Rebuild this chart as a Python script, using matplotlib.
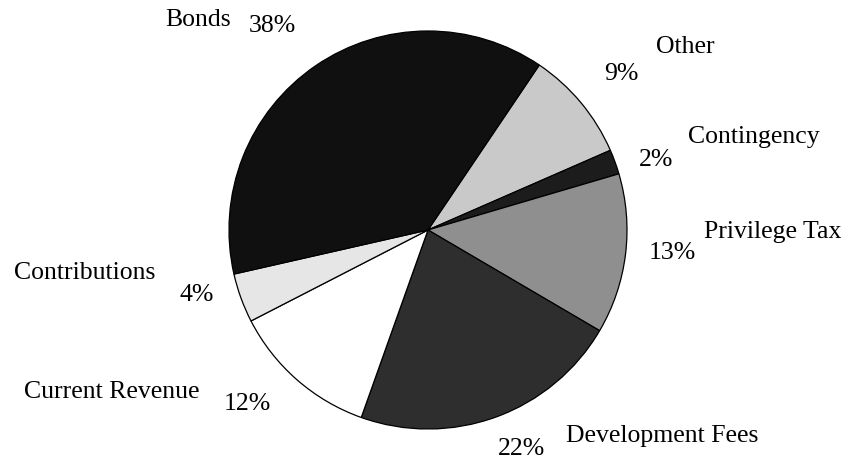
import matplotlib
matplotlib.use("Agg")
import matplotlib.pyplot as plt

# slices, clockwise starting from the Bonds/Other boundary
categories = ["Other", "Contingency", "Privilege Tax", "Development Fees",
              "Current Revenue", "Contributions", "Bonds"]
shares = [9, 2, 13, 22, 12, 4, 38]
pct_labels = ["9%", "2%", "13%", "22%", "12%", "4%", "38%"]

# greys approximating the scanned fill textures
colors = ["#c9c9c9", "#1c1c1c", "#8f8f8f", "#2e2e2e", "#ffffff", "#e6e6e6", "#101010"]

# label placement in image pixels (x, y from top): name, then percent
name_pos = {
    "Other": (685, 47), "Contingency": (754, 137), "Privilege Tax": (773, 232),
    "Development Fees": (662, 436), "Current Revenue": (112, 392),
    "Contributions": (85, 273), "Bonds": (198, 20),
}
pct_pos = {
    "Other": (621, 74), "Contingency": (656, 160), "Privilege Tax": (672, 253),
    "Development Fees": (522, 449), "Current Revenue": (247, 404),
    "Contributions": (197, 295), "Bonds": (272, 26),
}

W, H = 848, 464
plt.rcParams["font.family"] = ["Liberation Serif", "DejaVu Serif"]

fig = plt.figure(figsize=(W / 100, H / 100), dpi=100)
ax = fig.add_axes([0, 0, 1, 1])
ax.set_xlim(0, W)
ax.set_ylim(0, H)
ax.set_aspect("equal")
ax.axis("off")

ax.pie(shares, colors=colors, startangle=56, counterclock=False,
       center=(428, H - 231), radius=199, frame=True,
       wedgeprops=dict(edgecolor="black", linewidth=0.9))
ax.set_xlim(0, W)
ax.set_ylim(0, H)
ax.axis("off")

for cat, pct in zip(categories, pct_labels):
    x, y = name_pos[cat]
    ax.text(x, H - y, cat, ha="center", va="center", fontsize=18.5, color="black")
    x, y = pct_pos[cat]
    ax.text(x, H - y, pct, ha="center", va="center", fontsize=18.5, color="black")

fig.savefig("out.png", dpi=100, facecolor="white")
